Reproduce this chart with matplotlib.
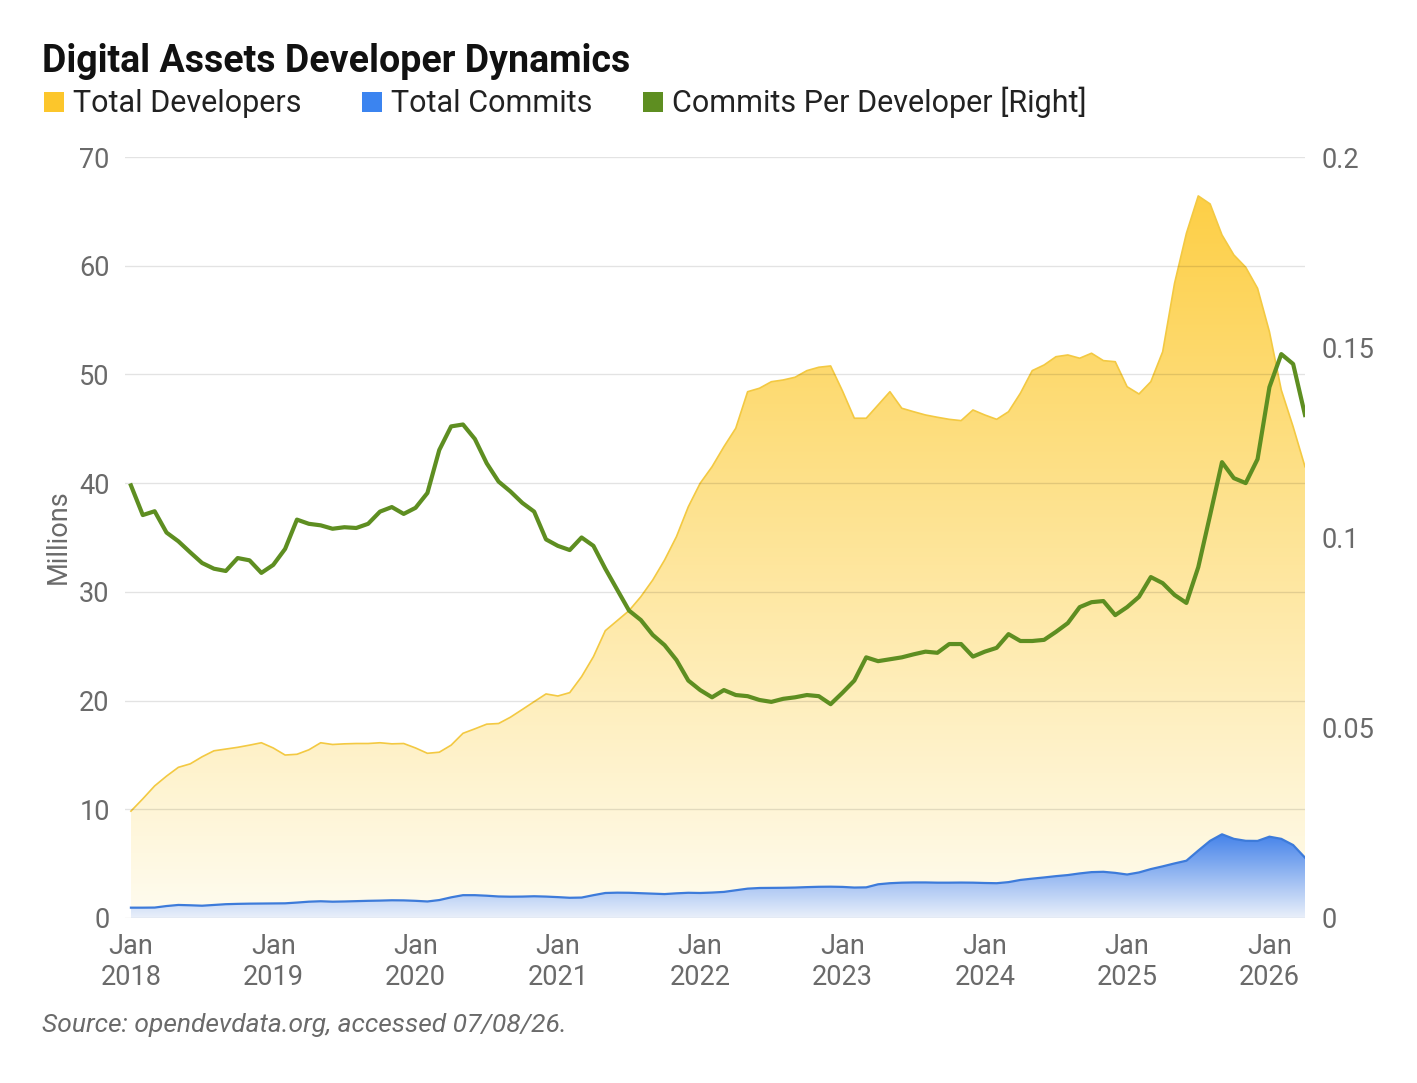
import numpy as np
import matplotlib
matplotlib.use('Agg')
import matplotlib.pyplot as plt
from matplotlib.colors import LinearSegmentedColormap
from matplotlib.patches import PathPatch, Rectangle

plt.rcParams['font.family'] = ['Roboto', 'DejaVu Sans']

# ── Data (monthly, Jan 2018 – Mar 2026) ───────────────────────────────────────
years = list(range(2018, 2027))

total_developers = [
    9.83, 10.96, 12.15, 13.05, 13.86, 14.18, 14.83, 15.38, 15.54, 15.70,
    15.90, 16.12, 15.64, 14.99, 15.06, 15.47, 16.12, 15.96, 16.02, 16.05,
    16.05, 16.12, 16.02, 16.05, 15.64, 15.15, 15.25, 15.90, 16.99, 17.40,
    17.83, 17.89, 18.47, 19.18, 19.90, 20.61, 20.42, 20.73, 22.20, 24.04,
    26.43, 27.35, 28.27, 29.56, 31.09, 32.93, 35.08, 37.83, 39.99, 41.51,
    43.35, 45.05, 48.41, 48.73, 49.33, 49.49, 49.74, 50.35, 50.66, 50.78,
    48.48, 45.97, 45.97, 47.19, 48.41, 46.89, 46.57, 46.27, 46.06, 45.87,
    45.75, 46.73, 46.27, 45.87, 46.57, 48.27, 50.35, 50.87, 51.63, 51.79,
    51.49, 51.95, 51.27, 51.17, 48.87, 48.20, 49.33, 52.09, 58.38, 62.98,
    66.42, 65.68, 62.83, 60.99, 59.86, 57.92, 53.93, 48.57, 45.19, 41.51,
]

total_commits = [
    0.95, 0.95, 0.96, 1.10, 1.20, 1.17, 1.13, 1.20, 1.27, 1.30,
    1.32, 1.33, 1.34, 1.35, 1.42, 1.50, 1.54, 1.50, 1.52, 1.55,
    1.58, 1.60, 1.63, 1.62, 1.58, 1.52, 1.65, 1.90, 2.10, 2.10,
    2.05, 1.98, 1.96, 1.97, 2.00, 1.97, 1.92, 1.86, 1.88, 2.10,
    2.30, 2.33, 2.32, 2.28, 2.24, 2.20, 2.27, 2.32, 2.30, 2.34,
    2.40, 2.55, 2.70, 2.76, 2.77, 2.78, 2.80, 2.84, 2.87, 2.88,
    2.86, 2.80, 2.82, 3.10, 3.20, 3.25, 3.27, 3.27, 3.25, 3.25,
    3.26, 3.25, 3.22, 3.20, 3.30, 3.50, 3.62, 3.73, 3.85, 3.95,
    4.10, 4.22, 4.25, 4.15, 4.00, 4.19, 4.50, 4.75, 5.02, 5.27,
    6.20, 7.10, 7.70, 7.28, 7.10, 7.09, 7.48, 7.28, 6.71, 5.55,
]

commits_per_dev = [
    0.1137, 0.1059, 0.1069, 0.1013, 0.0990, 0.0961, 0.0933, 0.0918, 0.0912, 0.0946,
    0.0940, 0.0907, 0.0928, 0.0970, 0.1047, 0.1036, 0.1032, 0.1023, 0.1027, 0.1025,
    0.1036, 0.1068, 0.1080, 0.1062, 0.1078, 0.1117, 0.1230, 0.1292, 0.1297, 0.1259,
    0.1195, 0.1147, 0.1121, 0.1091, 0.1068, 0.0995, 0.0978, 0.0967, 0.1000, 0.0978,
    0.0918, 0.0863, 0.0808, 0.0783, 0.0744, 0.0717, 0.0678, 0.0624, 0.0599, 0.0580,
    0.0599, 0.0586, 0.0583, 0.0573, 0.0568, 0.0576, 0.0580, 0.0586, 0.0583, 0.0562,
    0.0592, 0.0624, 0.0685, 0.0675, 0.0680, 0.0685, 0.0693, 0.0700, 0.0697, 0.0720,
    0.0720, 0.0687, 0.0700, 0.0710, 0.0746, 0.0728, 0.0728, 0.0731, 0.0752, 0.0775,
    0.0817, 0.0830, 0.0833, 0.0796, 0.0817, 0.0844, 0.0896, 0.0880, 0.0849, 0.0828,
    0.0922, 0.1059, 0.1198, 0.1156, 0.1143, 0.1206, 0.1395, 0.1482, 0.1456, 0.1322,
]

left_ticks = [0, 10, 20, 30, 40, 50, 60, 70]
right_ticks = [0, 0.05, 0.1, 0.15, 0.2]
right_labels = ['0', '0.05', '0.1', '0.15', '0.2']

# ── Colours ───────────────────────────────────────────────────────────────────
YELLOW = '#FCC62B'
BLUE = '#3B84F0'
GREEN = '#5E8E21'
GREY = '#6a6a6a'

months = np.arange(len(total_developers))


def gradient_area(ax, x, y, bottom_c, top_c, line_c, lw, z):
    poly = ax.fill_between(x, 0, y, facecolor='none', edgecolor='none')
    path = poly.get_paths()[0]
    clip = PathPatch(path, facecolor='none', edgecolor='none', transform=ax.transData)
    ax.add_patch(clip)
    cmap = LinearSegmentedColormap.from_list('g', [bottom_c, top_c])
    grad = np.linspace(0, 1, 256).reshape(-1, 1)
    im = ax.imshow(grad, cmap=cmap, aspect='auto', origin='lower',
                   extent=[x.min(), x.max(), 0, max(y)], zorder=z)
    im.set_clip_path(clip)
    ax.plot(x, y, color=line_c, lw=lw, zorder=z + 0.1, solid_joinstyle='round')


fig = plt.figure(figsize=(14.17, 10.83), dpi=100)
ax = fig.add_axes([125 / 1417, 1 - 918 / 1083, (1305 - 125) / 1417, (918 - 157) / 1083])

gradient_area(ax, months, total_developers, '#FFFCF0', '#FDCF46', '#F3C942', 1.2, 2)
gradient_area(ax, months, total_commits, '#EAF0FA', '#4583EA', '#3D7BDA', 1.6, 3)

for t in left_ticks:
    ax.axhline(t, color='black', alpha=0.11, lw=1.0, zorder=4)

ax.set_xlim(-0.5, len(months) - 1)
ax.set_ylim(0, 70)
ax.set_yticks(left_ticks)
ax.set_yticklabels([str(t) for t in left_ticks])
jan_idx = [12 * (y - 2018) for y in years]
ax.set_xticks(jan_idx)
ax.set_xticklabels([f'Jan\n{y}' for y in years], linespacing=1.2)
ax.tick_params(axis='y', length=0, pad=11, labelsize=19.5, labelcolor=GREY)
ax.tick_params(axis='x', length=0, pad=11, labelsize=19.5, labelcolor=GREY)
for s in ax.spines.values():
    s.set_visible(False)

ax2 = ax.twinx()
ax2.plot(months, commits_per_dev, color=GREEN, lw=3.0, zorder=5, solid_joinstyle='round')
ax2.set_ylim(0, 0.2)
ax2.set_yticks(right_ticks)
ax2.set_yticklabels(right_labels)
ax2.tick_params(axis='y', length=0, pad=12, labelsize=19.5, labelcolor=GREY)
for s in ax2.spines.values():
    s.set_visible(False)

# ── Title, legend, labels ─────────────────────────────────────────────────────
fig.text(42 / 1417, 1 - 72 / 1083, 'Digital Assets Developer Dynamics',
         fontsize=27, fontweight='bold', color='#111111', va='baseline', ha='left')

legend_items = [('Total Developers', YELLOW, 44), ('Total Commits', BLUE, 362),
                ('Commits Per Developer [Right]', GREEN, 643)]
for label, col, px in legend_items:
    fig.patches.append(Rectangle((px / 1417, 1 - 112 / 1083), 20 / 1417, 20 / 1083,
                                 transform=fig.transFigure, facecolor=col, edgecolor='none'))
    fig.text((px + 29) / 1417, 1 - 112 / 1083, label, fontsize=22, color='#222222',
             va='baseline', ha='left')

fig.text(58 / 1417, 1 - 537 / 1083, 'Millions', rotation=90, fontsize=19.5,
         color=GREY, va='center', ha='center')

fig.text(42 / 1417, 1 - 1025 / 1083, 'Source: opendevdata.org, accessed 07/08/26.',
         fontsize=19, style='italic', color=GREY, va='center', ha='left')

fig.savefig('out.png', dpi=100)
